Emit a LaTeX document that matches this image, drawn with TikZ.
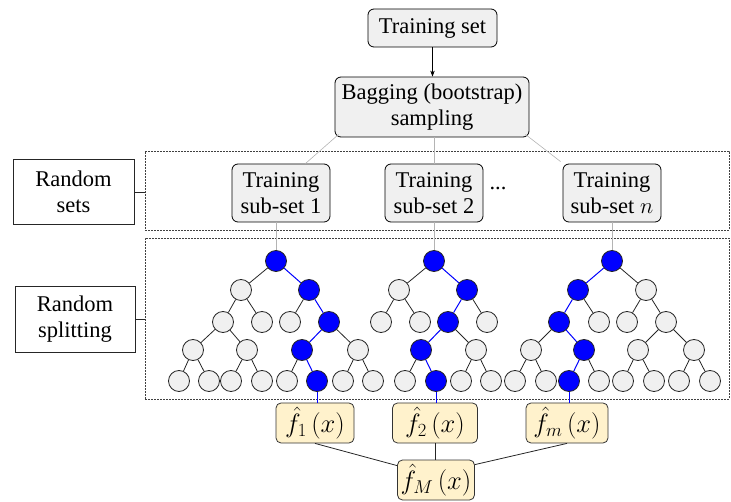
\RequirePackage{fix-cm}
\documentclass[tikz,border=0pt]{standalone}
\usepackage{fontspec}
\setmainfont{Liberation Serif}
\usetikzlibrary{arrows.meta}
\definecolor{boxgray}{HTML}{F0F0F0}
\definecolor{fyellow}{HTML}{FFF2CC}
\definecolor{lgray}{HTML}{B4B4B4}
\begin{document}
\begin{tikzpicture}[x=1pt,y=-1pt,
 every node/.style={font=\rmfamily\fontsize{22.5}{26}\selectfont},
 gbox/.style={draw=black, line width=0.8pt, rounded corners=6pt, fill=boxgray, align=center, inner sep=0pt},
 fbox/.style={draw=black!80, line width=0.8pt, rounded corners=5pt, fill=fyellow, inner sep=0pt, minimum height=40pt, font=\rmfamily\fontsize{26.5}{30}\selectfont},
 lbox/.style={draw=black!85, line width=0.8pt, fill=white, align=center, inner sep=0pt},
 dbox/.style={draw=black!75, line width=0.7pt, dash pattern=on 2pt off 1pt, inner sep=0pt},
 gn/.style={circle, draw=black!85, line width=0.8pt, fill=boxgray, minimum size=21pt, inner sep=0pt},
 bn/.style={gn, fill=blue},
 te/.style={black!85, line width=0.8pt},
 be/.style={blue, line width=1pt},
 gl/.style={lgray, line width=0.6pt}]
\useasboundingbox (0,0) rectangle (731,502);

% top boxes
\node[gbox, minimum width=129pt, minimum height=38pt] (ts) at (432.5,28) {Training set};
\node[gbox, minimum width=194pt, minimum height=60pt] (bag) at (432,107) {Bagging (bootstrap)\\sampling};

% dashed regions
\node[dbox, minimum width=584pt, minimum height=79pt] (rs) at (437,190.5) {};
\node[dbox, minimum width=584pt, minimum height=161pt] (rp) at (437,318.5) {};

% label boxes
\node[lbox, minimum width=121pt, minimum height=65pt] (lrs) at (73.5,192) {Random\\sets};
\node[lbox, minimum width=120pt, minimum height=66pt] (lrp) at (75,319) {Random\\splitting};

% sub-sets
\node[gbox, minimum width=98pt, minimum height=58pt] (s1) at (281,193) {Training\\sub-set 1};
\node[gbox, minimum width=98pt, minimum height=58pt] (s2) at (434,193) {Training\\sub-set 2};
\node[gbox, minimum width=98pt, minimum height=58pt] (sn) at (612,193) {Training\\sub-set $n$};
\node (dots) at (498,188) {...};

% tree 1
\node[bn] (A0) at (276,261) {};
\node[gn] (A1) at (241,290) {};
\node[bn] (A2) at (309,290) {};
\node[gn] (A3) at (223,322) {};
\node[gn] (A4) at (262,322) {};
\node[gn] (A5) at (290,322) {};
\node[bn] (A6) at (329,322) {};
\node[gn] (A7) at (193,350) {};
\node[gn] (A8) at (247,350) {};
\node[bn] (A9) at (302,350) {};
\node[gn] (A10) at (358,350) {};
\node[gn] (A11) at (179,381) {};
\node[gn] (A12) at (209,381) {};
\node[gn] (A13) at (231,381) {};
\node[gn] (A14) at (262,381) {};
\node[gn] (A15) at (287,381) {};
\node[bn] (A16) at (317,381) {};
\node[gn] (A17) at (343,381) {};
\node[gn] (A18) at (373,381) {};
\draw[te] (A0)--(A1) (A1)--(A3) (A1)--(A4) (A2)--(A5) (A6)--(A10)
 (A3)--(A7) (A3)--(A8) (A7)--(A11) (A7)--(A12) (A8)--(A13) (A8)--(A14)
 (A9)--(A15) (A10)--(A17) (A10)--(A18);
\draw[be] (A0)--(A2) (A2)--(A6) (A6)--(A9) (A9)--(A16);

% tree 2
\node[bn] (B0) at (434,261) {};
\node[gn] (B1) at (399,290) {};
\node[bn] (B2) at (467,290) {};
\node[gn] (B3) at (381,322) {};
\node[gn] (B4) at (420,322) {};
\node[bn] (B5) at (448,322) {};
\node[gn] (B6) at (487,322) {};
\node[bn] (B7) at (421,350) {};
\node[gn] (B8) at (476,350) {};
\node[gn] (B9) at (405,381) {};
\node[bn] (B10) at (436,381) {};
\node[gn] (B11) at (461,381) {};
\node[gn] (B12) at (491,381) {};
\draw[te] (B0)--(B1) (B1)--(B3) (B1)--(B4) (B2)--(B6) (B5)--(B8)
 (B7)--(B9) (B8)--(B11) (B8)--(B12);
\draw[be] (B0)--(B2) (B2)--(B5) (B5)--(B7) (B7)--(B10);

% tree 3
\node[bn] (C0) at (612,261) {};
\node[bn] (C1) at (578,290) {};
\node[gn] (C2) at (646,290) {};
\node[bn] (C3) at (559,322) {};
\node[gn] (C4) at (599,322) {};
\node[gn] (C5) at (627,322) {};
\node[gn] (C6) at (666,322) {};
\node[gn] (C7) at (531,350) {};
\node[bn] (C8) at (584,350) {};
\node[gn] (C9) at (638,350) {};
\node[gn] (C10) at (694,350) {};
\node[gn] (C11) at (515,381) {};
\node[gn] (C12) at (546,381) {};
\node[bn] (C13) at (569,381) {};
\node[gn] (C14) at (599,381) {};
\node[gn] (C15) at (623,381) {};
\node[gn] (C16) at (654,381) {};
\node[gn] (C17) at (679,381) {};
\node[gn] (C18) at (710,381) {};
\draw[te] (C0)--(C2) (C1)--(C4) (C2)--(C5) (C2)--(C6) (C3)--(C7)
 (C6)--(C9) (C6)--(C10) (C7)--(C11) (C7)--(C12) (C8)--(C14)
 (C9)--(C15) (C9)--(C16) (C10)--(C17) (C10)--(C18);
\draw[be] (C0)--(C1) (C1)--(C3) (C3)--(C8) (C8)--(C13);

% f boxes
\node[fbox, minimum width=78pt] (f1) at (315,423) {$\hat{f}_1\,(x)$};
\node[fbox, minimum width=85pt] (f2) at (435,423) {$\hat{f}_2\,(x)$};
\node[fbox, minimum width=82pt] (fm) at (567,423) {$\hat{f}_m\,(x)$};
\node[fbox, minimum width=77pt] (fM) at (436,480) {$\hat{f}_M\,(x)$};

% connectors
\draw[-{Stealth[length=6pt,width=4.5pt]}, line width=0.7pt] (ts.south) -- (ts.south |- bag.north);
\draw[gl] ([xshift=4pt,yshift=3pt]bag.south west) -- ([xshift=-25pt]s1.north east);
\draw[gl] (s2.north |- bag.south) -- (s2.north);
\draw[gl] ([xshift=-4pt,yshift=3pt]bag.south east) -- ([xshift=-2pt,yshift=2pt]sn.north west);
\draw[gl] (s1.south -| A0) -- (A0);
\draw[gl] (s2.south -| B0) -- (B0);
\draw[gl] (sn.south -| C0) -- (C0);
\draw[te] (lrs.east) -- (lrs.east -| rs.west);
\draw[te] (lrp.east) -- (lrp.east -| rp.west);
\draw[be] (A16) -- (A16 |- f1.north);
\draw[be] (B10) -- (B10 |- f2.north);
\draw[be] (C13) -- (C13 |- fm.north);
\draw[te] (f1.south) -- ([yshift=-6pt]fM.north west);
\draw[te] (f2.south) -- (f2.south |- fM.north);
\draw[te] (fm.south) -- ([yshift=-5pt]fM.north east);
\end{tikzpicture}
\end{document}
